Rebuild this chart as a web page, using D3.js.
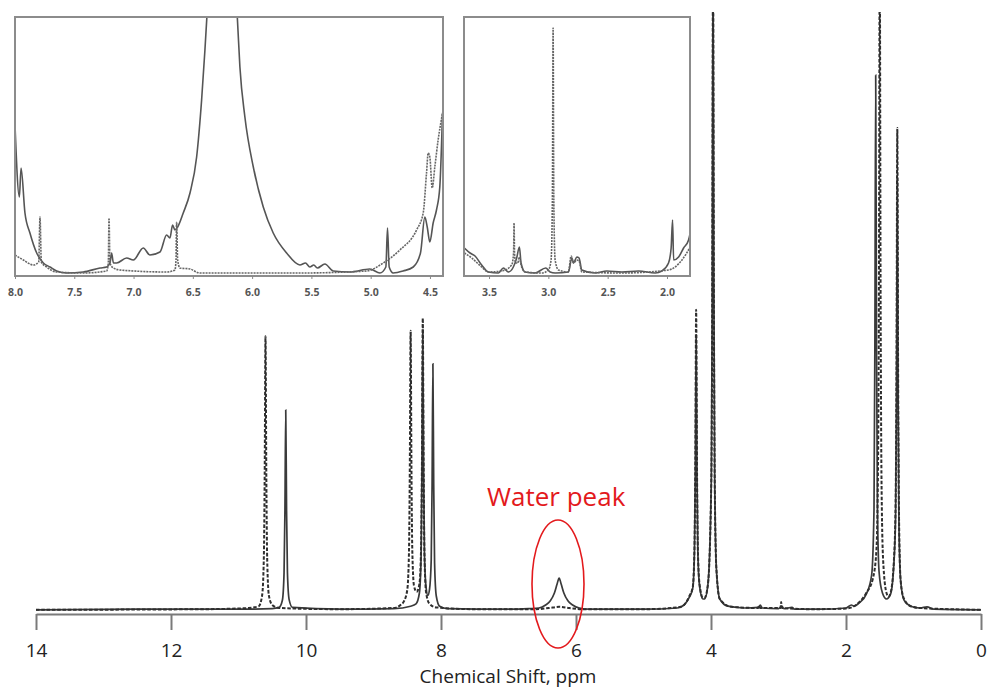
<!DOCTYPE html>
<html>
<head>
<meta charset="utf-8">
<script src="https://cdn.jsdelivr.net/npm/d3@7"></script>
<style>
  body { margin: 0; background: #fff; }
  text { font-family: "Open Sans", sans-serif; }
</style>
</head>
<body>
<div id="chart"></div>
<script>
// Main spectrum, [ppm, intensity]
var mainTicks = [14, 12, 10, 8, 6, 4, 2, 0];

var mainSolid = [
    [14.0, 0.2], [12.5, 0.3], [11.0, 0.3], [10.5, 0.4],
    [10.40, 0.6], [10.35, 1.8], [10.325, 6.4], [10.312, 16.8], [10.30, 33.5], [10.288, 16.8], [10.275, 6.4], [10.25, 1.9], [10.20, 0.6],
    [9.5, 0.3], [8.7, 0.4], [8.45, 0.8],
    [8.37, 1.2], [8.32, 3.0], [8.295, 9], [8.282, 23.5], [8.27, 46.8], [8.258, 23.5], [8.245, 9.5], [8.22, 3.8],
    [8.195, 2.6], [8.17, 3.6], [8.145, 8.5], [8.132, 21], [8.12, 41.2], [8.108, 21], [8.095, 8], [8.07, 2.5], [8.02, 0.8], [7.9, 0.4],
    [7.0, 0.3], [6.7, 0.4],
    [6.55, 0.5], [6.45, 1.0], [6.38, 1.7], [6.32, 3.0], [6.28, 4.5], [6.25, 5.5], [6.22, 4.5], [6.18, 3.0], [6.12, 1.7], [6.05, 1.0], [5.95, 0.5], [5.8, 0.3],
    [5.0, 0.3], [4.5, 0.5],
    [4.40, 1.0], [4.32, 2.3], [4.27, 3.8], [4.245, 10], [4.232, 23], [4.22, 46], [4.208, 23], [4.195, 10], [4.17, 4.2], [4.12, 2.0],
    [4.095, 2.0], [4.045, 4.5], [3.995, 22], [3.982, 50], [3.97, 110], [3.958, 55], [3.945, 22], [3.92, 7], [3.87, 2],
    [3.75, 0.8], [3.5, 0.5], [3.3, 0.6], [3.27, 1.0], [3.24, 0.5], [3.0, 0.4], [2.95, 0.8], [2.92, 0.4], [2.8, 0.6], [2.76, 0.3],
    [2.4, 0.3], [2.0, 0.5], [1.92, 1.0], [1.88, 0.8],
    [1.80, 1.4], [1.70, 2.8], [1.62, 6], [1.585, 17], [1.572, 45], [1.56, 89.3], [1.548, 45], [1.535, 18], [1.51, 6.5], [1.46, 3.0],
    [1.40, 2.0], [1.34, 2.8], [1.29, 8], [1.265, 16], [1.252, 36], [1.24, 72], [1.228, 36], [1.215, 14], [1.19, 5], [1.14, 1.8],
    [1.04, 0.8], [0.9, 0.5], [0.8, 0.7], [0.7, 0.3], [0.0, 0.2]
];

var mainDashed = [
    [14.0, 0.2], [11.5, 0.3], [10.85, 0.5],
    [10.70, 0.8], [10.65, 2.6], [10.625, 8.7], [10.612, 23], [10.60, 45.8], [10.588, 23], [10.575, 8.7], [10.55, 2.6], [10.50, 1.0], [10.40, 0.5],
    [9.5, 0.3], [8.7, 0.5],
    [8.60, 1.0], [8.55, 1.6], [8.50, 3.5], [8.475, 9.5], [8.462, 24], [8.45, 46.7], [8.438, 24], [8.425, 10], [8.40, 4.2],
    [8.36, 3.2], [8.32, 4.5], [8.295, 10.5], [8.282, 25], [8.27, 48.8], [8.258, 25], [8.245, 9.5], [8.22, 3.0], [8.17, 1.2], [8.07, 0.6],
    [7.5, 0.3], [6.6, 0.3], [6.4, 0.5], [6.25, 0.7], [6.1, 0.5], [5.9, 0.3], [5.0, 0.3], [4.5, 0.6],
    [4.40, 1.0], [4.32, 2.5], [4.27, 4.0], [4.245, 10.5], [4.232, 25], [4.22, 50.2], [4.208, 25], [4.195, 10.5], [4.17, 4.5], [4.12, 2.2],
    [4.095, 2.2], [4.045, 4.5], [3.995, 22], [3.982, 50], [3.97, 110], [3.958, 55], [3.945, 22], [3.92, 7], [3.87, 2],
    [3.7, 0.7], [3.3, 0.5], [3.29, 0.9], [3.27, 0.5], [2.97, 0.5], [2.96, 1.5], [2.95, 0.5], [2.5, 0.3], [2.0, 0.4],
    [1.80, 1.5], [1.70, 3], [1.60, 5.5], [1.55, 10], [1.525, 25], [1.512, 55], [1.50, 110], [1.488, 55], [1.475, 23], [1.45, 8.5],
    [1.40, 3.0], [1.37, 2.4], [1.34, 3.0], [1.29, 8.5], [1.265, 18], [1.252, 40], [1.24, 80.5], [1.228, 40], [1.215, 16], [1.19, 5],
    [1.14, 2], [1.04, 0.8], [0.9, 0.5], [0.0, 0.2]
];

// Inset 1 (8.0 - 4.4 ppm)
var inset1Ticks = [8.0, 7.5, 7.0, 6.5, 6.0, 5.5, 5.0, 4.5];

var inset1Solid = [
    [8.00, 148], [7.963, 76], [7.949, 105], [7.916, 60], [7.874, 40], [7.817, 20], [7.761, 10], [7.705, 6], [7.649, 2],
    [7.564, 0], [7.424, 1], [7.283, 5], [7.227, 6], [7.199, 10], [7.185, 20], [7.17, 10], [7.143, 10], [7.058, 15], [7.002, 13],
    [6.918, 25], [6.862, 18], [6.777, 21], [6.721, 38], [6.693, 35], [6.671, 48], [6.651, 43], [6.628, 46],
    [6.581, 60], [6.524, 80], [6.468, 116], [6.426, 173], [6.398, 223], [6.36, 300], [6.30, 420], [6.25, 500],
    [6.20, 420], [6.15, 300], [6.125, 256], [6.103, 206], [6.061, 156], [5.990, 106], [5.906, 66], [5.822, 40], [5.709, 20],
    [5.597, 8], [5.55, 10], [5.513, 6], [5.48, 8], [5.45, 5], [5.386, 9], [5.316, 2], [5.175, 1], [5.007, 4], [4.922, 0],
    [4.872, 6], [4.858, 45], [4.844, 6], [4.810, 0], [4.726, 2], [4.641, 6], [4.580, 20], [4.543, 56], [4.523, 46],
    [4.501, 31], [4.473, 50], [4.445, 63], [4.417, 86], [4.394, 160]
];

var inset1Dashed = [
    [8.00, 18], [7.93, 13], [7.845, 8], [7.80, 11], [7.789, 56], [7.778, 11], [7.733, 6], [7.649, 1], [7.424, 0],
    [7.227, 2], [7.213, 10], [7.207, 55], [7.199, 10], [7.17, 5], [7.115, 3], [6.721, 1], [6.651, 3], [6.642, 13],
    [6.637, 51], [6.628, 13], [6.609, 5], [6.524, 4], [6.44, 0], [5.597, 0], [5.035, 2], [4.894, 10], [4.754, 23],
    [4.613, 43], [4.557, 60], [4.529, 100], [4.515, 120], [4.501, 116], [4.481, 85], [4.459, 106], [4.431, 133], [4.394, 160]
];

// Inset 2 (3.7 - 1.8 ppm)
var inset2Ticks = [3.5, 3.0, 2.5, 2.0];

var inset2Solid = [
    [3.708, 25], [3.660, 20], [3.618, 17], [3.562, 8], [3.506, 1], [3.421, 0], [3.379, 5], [3.337, 1], [3.295, 6],
    [3.267, 15], [3.244, 26], [3.230, 10], [3.196, 1], [3.112, 0], [3.022, 5], [2.985, 1], [2.943, 0], [2.831, 1],
    [2.802, 15], [2.788, 10], [2.760, 16], [2.741, 15], [2.718, 3], [2.606, 0], [2.507, 2], [2.380, 1], [2.240, 2],
    [2.099, 0], [2.043, 2], [1.987, 10], [1.965, 25], [1.953, 53], [1.944, 13], [1.902, 16], [1.860, 25], [1.818, 33], [1.804, 40]
];

var inset2Dashed = [
    [3.708, 20], [3.646, 15], [3.562, 6], [3.506, 1], [3.393, 2], [3.309, 8], [3.293, 20], [3.289, 50], [3.285, 20],
    [3.275, 10], [3.258, 10], [3.244, 16], [3.230, 8], [3.196, 1], [3.056, 0], [2.999, 3], [2.977, 13], [2.966, 73],
    [2.960, 245], [2.954, 73], [2.943, 13], [2.915, 3], [2.831, 1], [2.808, 17], [2.788, 10], [2.760, 13], [2.741, 12],
    [2.718, 1], [2.380, 0], [1.987, 3], [1.874, 13], [1.804, 26]
];

var w = 987;
var h = 689;

var svg = d3.select("#chart")
    .append("svg")
    .attr("width", w)
    .attr("height", h);

//Main scales
var xScale = d3.scaleLinear().domain([14, 0]).range([36, 981]);
var yScale = d3.scaleLinear().domain([0, 100]).range([611, 11]);

svg.append("clipPath")
    .attr("id", "mainClip")
    .append("rect")
    .attr("x", 0).attr("y", 12).attr("width", w).attr("height", 620);

var mainLine = d3.line()
    .x(function (d) { return xScale(d[0]); })
    .y(function (d) { return yScale(d[1]); })
    .curve(d3.curveMonotoneX);

var mainG = svg.append("g").attr("clip-path", "url(#mainClip)");

mainG.append("path")
    .datum(mainSolid)
    .attr("d", mainLine)
    .attr("fill", "none")
    .attr("stroke", "#3a3a3a")
    .attr("stroke-width", 1.7);

mainG.append("path")
    .datum(mainDashed)
    .attr("d", mainLine)
    .attr("fill", "none")
    .attr("stroke", "#2e2e2e")
    .attr("stroke-width", 2)
    .attr("stroke-dasharray", "3.5,1.8");

//X axis
var xAxis = d3.axisBottom(xScale)
    .tickValues(mainTicks)
    .tickFormat(d3.format("d"))
    .tickSize(16)
    .tickSizeOuter(0);

var axisG = svg.append("g")
    .attr("transform", "translate(0,614)")
    .call(xAxis);

axisG.select(".domain").attr("stroke", "#7a7a7a").attr("stroke-width", 2);
axisG.selectAll(".tick line").attr("stroke", "#7a7a7a").attr("stroke-width", 2);
axisG.selectAll(".tick text")
    .attr("y", 43)
    .attr("dy", 0)
    .attr("fill", "#222")
    .style("font-size", "19px")
    .style("font-family", "'Open Sans', sans-serif");

svg.append("text")
    .attr("x", 508)
    .attr("y", 683)
    .attr("text-anchor", "middle")
    .attr("fill", "#222")
    .style("font-size", "19px")
    .text("Chemical Shift, ppm");

//Water peak note
svg.append("text")
    .attr("x", 487)
    .attr("y", 506)
    .attr("fill", "#e3191c")
    .style("font-size", "26px")
    .text("Water peak");

svg.append("ellipse")
    .attr("cx", 558)
    .attr("cy", 584)
    .attr("rx", 26)
    .attr("ry", 64)
    .attr("fill", "none")
    .attr("stroke", "#e3191c")
    .attr("stroke-width", 1.6);

//Insets
function drawInset(id, x0, x1, domain, ticks, solid, dashed) {
    var top = 17, bottom = 276;
    var ix = d3.scaleLinear().domain(domain).range([x0, x1]);
    var iy = d3.scaleLinear().domain([0, 256]).range([273, 17]);

    var g = svg.append("g");

    g.append("rect")
        .attr("x", x0).attr("y", top)
        .attr("width", x1 - x0).attr("height", bottom - top)
        .attr("fill", "#fff");

    g.append("clipPath")
        .attr("id", id)
        .append("rect")
        .attr("x", x0).attr("y", top)
        .attr("width", x1 - x0).attr("height", bottom - top);

    var line = d3.line()
        .x(function (d) { return ix(d[0]); })
        .y(function (d) { return iy(d[1]); })
        .curve(d3.curveMonotoneX);

    var inner = g.append("g").attr("clip-path", "url(#" + id + ")");

    inner.append("path")
        .datum(solid)
        .attr("d", line)
        .attr("fill", "none")
        .attr("stroke", "#555")
        .attr("stroke-width", 1.6);

    inner.append("path")
        .datum(dashed)
        .attr("d", line)
        .attr("fill", "none")
        .attr("stroke", "#666")
        .attr("stroke-width", 1.6)
        .attr("stroke-dasharray", "2,1");

    g.append("rect")
        .attr("x", x0).attr("y", top)
        .attr("width", x1 - x0).attr("height", bottom - top)
        .attr("fill", "none")
        .attr("stroke", "#8c8c8c")
        .attr("stroke-width", 2);

    var ax = g.append("g")
        .attr("transform", "translate(0," + bottom + ")")
        .call(d3.axisBottom(ix).tickValues(ticks).tickFormat(d3.format(".1f")).tickSize(3).tickSizeOuter(0));

    ax.select(".domain").remove();
    ax.selectAll(".tick line").attr("stroke", "#888");
    ax.selectAll(".tick text")
        .attr("y", 20)
        .attr("dy", 0)
        .attr("fill", "#555")
        .style("font-size", "10.5px")
        .style("font-weight", "700")
        .style("font-family", "'Open Sans', sans-serif");
}

drawInset("clip1", 15, 443, [8.0, 4.39], inset1Ticks, inset1Solid, inset1Dashed);
drawInset("clip2", 464, 690, [3.711, 1.806], inset2Ticks, inset2Solid, inset2Dashed);
</script>
</body>
</html>
